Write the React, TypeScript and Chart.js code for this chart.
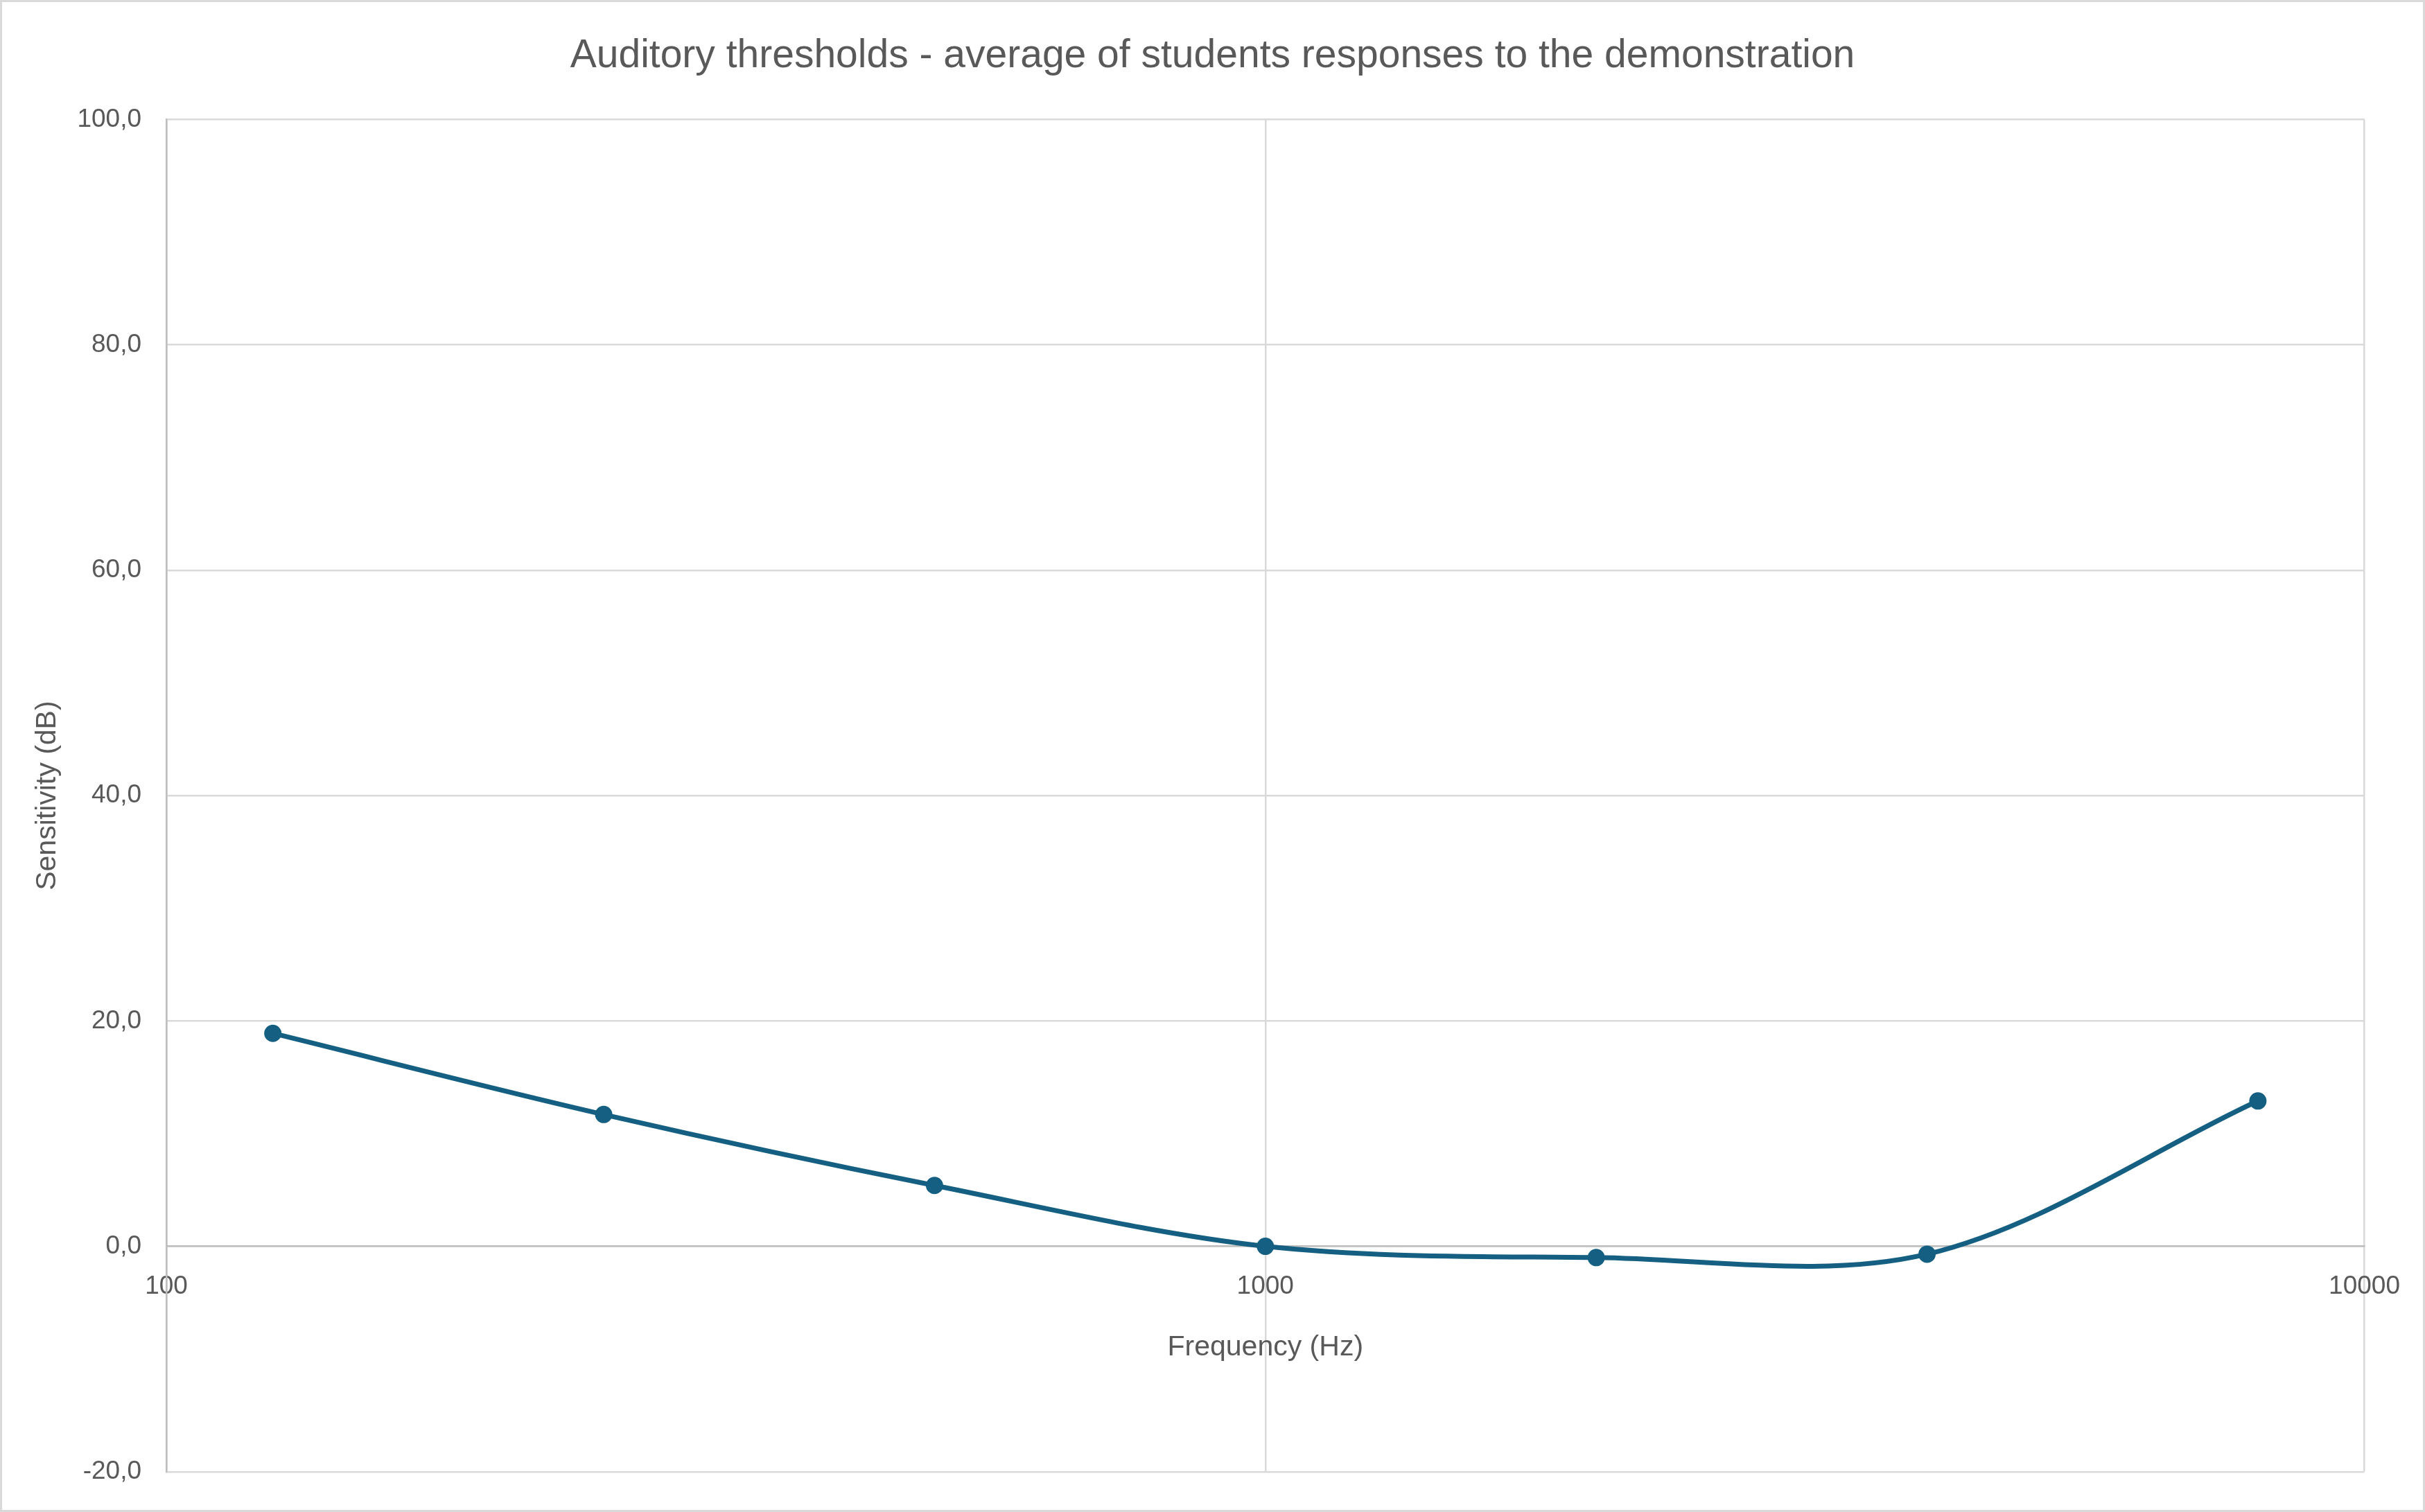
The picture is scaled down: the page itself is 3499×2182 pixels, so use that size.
import React, { useEffect, useRef } from "react";
import { Chart, registerables } from "chart.js";

Chart.register(...registerables);

const frequencies = [125, 250, 500, 1000, 2000, 4000, 8000];
const sensitivity = [18.9, 11.7, 5.4, 0.0, -1.0, -0.7, 12.9];
const xTickValues = [100, 1000, 10000];
const yMin = -20;
const yMax = 100;
const yStep = 20;
const chartTitle = "Auditory thresholds - average of students responses to the demonstration";
const xTitle = "Frequency (Hz)";
const yTitle = "Sensitivity (dB)";

const W = 3499;
const H = 2182;
const FONT = "'Liberation Sans', Arial, sans-serif";
const TEXT = "#595959";
const GRID = "#d9d9d9";
const AXIS = "#bfbfbf";
const SERIES = "#156082";

const framePlugin = {
  id: "frame",
  beforeDraw(chart: any) {
    const { ctx, width, height } = chart;
    ctx.save();
    ctx.fillStyle = "#ffffff";
    ctx.fillRect(0, 0, width, height);
    ctx.strokeStyle = GRID;
    ctx.lineWidth = 3;
    ctx.strokeRect(1.5, 1.5, width - 3, height - 3);
    ctx.restore();
  },
};

export default function App() {
  const ref = useRef<HTMLCanvasElement | null>(null);
  useEffect(() => {
    document.body.style.margin = "0";
    const canvas = ref.current!;
    const chart = new Chart(canvas, {
      type: "line",
      data: {
        datasets: [
          {
            label: "Sensitivity",
            data: frequencies.map((f, i) => ({ x: f, y: sensitivity[i] })),
            borderColor: SERIES,
            backgroundColor: SERIES,
            borderWidth: 7,
            tension: 0.33,
            pointRadius: 11.5,
            pointBorderWidth: 2,
            pointBackgroundColor: SERIES,
            pointBorderColor: SERIES,
          },
        ],
      },
      options: {
        responsive: false,
        animation: false,
        devicePixelRatio: 1,
        layout: { padding: { top: 0, right: 80, bottom: 53, left: 80 } },
        plugins: {
          legend: { display: false },
          tooltip: { enabled: false },
          title: {
            display: true,
            text: chartTitle,
            color: TEXT,
            font: { family: FONT, size: 57, weight: "normal" },
            padding: { top: 47, bottom: 57 },
          },
        },
        scales: {
          x: {
            type: "logarithmic",
            min: 100,
            max: 10000,
            position: { y: 0 } as any,
            afterBuildTicks: (scale: any) => {
              scale.ticks = xTickValues.map((v) => ({ value: v, major: true }));
            },
            grid: {
              drawTicks: false,
              lineWidth: 2.5,
              color: (c: any) => (c.tick && c.tick.value === 100 ? AXIS : GRID),
            },
            border: { display: true, color: AXIS, width: 2.5 },
            ticks: {
              autoSkip: false,
              maxRotation: 0,
              padding: 36,
              color: TEXT,
              font: { family: FONT, size: 37 },
              callback: (v: any) => String(v),
            },
            title: {
              display: true,
              text: xTitle,
              color: TEXT,
              font: { family: FONT, size: 41 },
              padding: { top: 5, bottom: 0 },
            },
          },
          y: {
            type: "linear",
            min: yMin,
            max: yMax,
            afterFit: (scale: any) => {
              scale.width = 160;
            },
            grid: {
              drawTicks: false,
              lineWidth: 2.5,
              color: (c: any) => (c.tick && c.tick.value === 0 ? AXIS : GRID),
            },
            border: { display: true, color: AXIS, width: 2.5 },
            ticks: {
              stepSize: yStep,
              padding: 36,
              color: TEXT,
              font: { family: FONT, size: 37 },
              callback: (v: any) => Number(v).toFixed(1).replace(".", ","),
            },
            title: {
              display: true,
              text: yTitle,
              color: TEXT,
              font: { family: FONT, size: 41 },
              padding: { top: -36, bottom: 0 },
            },
          },
        },
      },
      plugins: [framePlugin],
    });
    return () => chart.destroy();
  }, []);
  return <canvas ref={ref} width={W} height={H} style={{ display: "block", width: W, height: H }} />;
}
